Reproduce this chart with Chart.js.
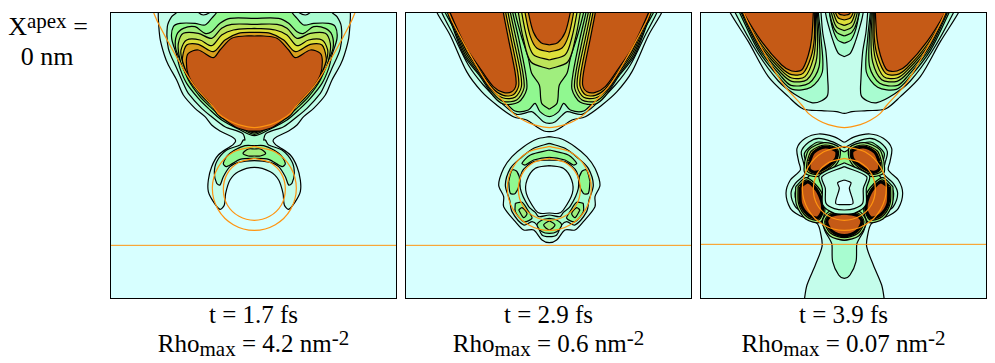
<!DOCTYPE html>
<html>
<head>
<meta charset="utf-8">
<title>Rho contours</title>
<script src="https://cdn.jsdelivr.net/npm/chart.js@4"></script>
<style>
  body { margin: 0; background: #fff; font-family: "Liberation Serif", serif; color: #000; }
  .panel { position: absolute; top: 12px; width: 287px; height: 287px; box-sizing: border-box; border: 1px solid #000; }
  .panel canvas { display: block; }
  .label { position: absolute; text-align: center; font-size: 25px; line-height: 30px; white-space: nowrap; }
  .small { font-size: 21px; }
  .up { position: relative; top: -7px; }
  .down { position: relative; top: 4px; }
</style>
</head>
<body>
<div class="label" style="left:0;top:12px;width:96px;font-size:26px">X<span class="small up">apex</span> =</div>
<div class="label" style="left:0;top:42px;width:94px;font-size:26px">0 nm</div>

<div class="panel" style="left:110px"><canvas id="panel1" width="285" height="285"></canvas></div>
<div class="panel" style="left:405px"><canvas id="panel2" width="285" height="285"></canvas></div>
<div class="panel" style="left:700px"><canvas id="panel3" width="285" height="285"></canvas></div>

<div class="label" style="left:110px;top:300px;width:287px">t = 1.7 fs</div>
<div class="label" style="left:405px;top:300px;width:287px">t = 2.9 fs</div>
<div class="label" style="left:700px;top:300px;width:287px">t = 3.9 fs</div>
<div class="label" style="left:110px;top:329px;width:287px">Rho<span class="small down">max</span> = 4.2 nm<span class="small up">-2</span></div>
<div class="label" style="left:405px;top:329px;width:287px">Rho<span class="small down">max</span> = 0.6 nm<span class="small up">-2</span></div>
<div class="label" style="left:700px;top:329px;width:287px">Rho<span class="small down">max</span> = 0.07 nm<span class="small up">-2</span></div>

<script>
// contour levels, lowest to highest density
const levelColors = ["#c4fdeb", "#a8fcd0", "#90f890", "#a0ee7e", "#bde45a", "#dde03a", "#d8a01e", "#c55a16"];
const backgroundColor = "#d7ffff";
const orange = "#ff9410";

// all contours are read off the picture as half outlines [x, y],
// x from the symmetry axis, y down from the top of the panel
const apexCurve = [[305,-5],[290,30],[248,109],[208,179],[178,224],[128,279],[108,304],[78,325],[48,338],[0,347]];
const outerRing = [[0,403],[63,420],[109,466],[126,529],[109,592],[63,638],[0,655]];
const innerRing = [[0,439],[46,451],[81,485],[93,532],[81,579],[46,613],[0,625]];
const baseLineP1 = [[-430,700],[425,700]];
const baseLineP3 = [[-430,697],[425,697]];

// panel 1
const p1Level0 = [[288,-10],[288,20],[283,79],[270,129],[258,159],[233,204],[213,249],[178,289],[148,314],[128,339],[103,357],[63,377],[56,387],[63,397],[73,404],[108,429],[128,464],[138,504],[138,539],[123,569],[103,592],[90,579],[86,544],[73,504],[48,479],[0,466]];
const p1Level1 = [[233,-10],[233,1],[248,14],[261,44],[258,109],[233,169],[211,219],[198,244],[158,289],[128,314],[88,344],[36,364],[28,384],[33,384],[43,399],[83,414],[113,449],[120,484],[113,514],[103,519],[93,494],[73,464],[48,451],[0,446]];
const p1Notch = [[168,-5],[168,1],[153,9],[133,1],[133,-5]];
const p1Level2 = [[113,-10],[113,1],[128,19],[148,39],[178,34],[223,34],[243,44],[248,79],[233,129],[223,169],[203,214],[168,259],[138,289],[98,324],[48,351],[0,371]];
const p1Level3 = [[0,19],[73,19],[103,34],[128,59],[148,64],[178,44],[213,49],[233,69],[236,109],[218,154],[198,204],[163,254],[133,284],[93,319],[43,347],[0,367]];
const p1Level4 = [[0,37],[68,37],[98,49],[128,79],[168,64],[213,64],[228,94],[226,129],[216,164],[195,204],[160,249],[130,279],[90,314],[40,343],[0,363]];
const p1Level5 = [[0,49],[63,54],[98,69],[128,101],[163,84],[203,84],[220,114],[218,139],[208,169],[192,204],[157,246],[127,275],[87,310],[37,339],[0,360]];
const p1Level6 = [[0,61],[48,64],[88,84],[123,119],[168,97],[203,99],[216,139],[212,159],[204,179],[189,204],[154,243],[124,272],[84,307],[34,336],[0,358]];
const p1Level7 = [[0,72],[28,72],[68,79],[103,114],[123,137],[168,114],[198,124],[204,149],[198,189],[178,224],[128,279],[112,306],[103,314],[58,344],[18,357],[0,357]];
const p1Crescent = [[0,401],[28,401],[73,424],[93,454],[83,464],[43,442],[0,439]];
const p1CrescentCore = [[0,411],[18,411],[34,424],[18,432],[0,432]];

// panel 2
const p2Level0 = [[338,-10],[336,4],[298,69],[248,179],[203,239],[158,279],[108,314],[68,324],[38,344],[16,357],[0,359]];
const p2Level1 = [[323,-10],[323,1],[288,69],[243,159],[198,219],[148,269],[98,307],[53,299],[38,310],[18,329],[0,334]];
const p2Level2 = [[313,-10],[313,1],[263,89],[218,169],[178,229],[138,264],[103,297],[63,294],[43,274],[28,299],[0,314]];
const p2LobeL3 = [[310,-10],[256,130],[208,193],[168,252],[138,276],[93,271],[68,232],[72,179],[92,79],[110,1],[110,-10]];
const p2LobeL4 = [[308,-10],[254,125],[208,188],[168,245],[138,268],[98,264],[76,228],[80,179],[100,79],[117,1],[117,-10]];
const p2LobeL5 = [[305,-10],[252,120],[208,182],[168,238],[138,258],[103,256],[84,225],[87,179],[108,79],[124,1],[124,-10]];
const p2LobeL6 = [[302,-10],[250,115],[208,176],[168,231],[138,250],[108,248],[92,222],[95,179],[115,79],[131,1],[131,-10]];
const p2LobeL7 = [[298,-10],[298,1],[248,109],[208,169],[168,224],[138,241],[113,239],[100,219],[103,179],[123,79],[138,1],[138,-10]];
const p2CenterL3 = [[0,292],[23,274],[30,219],[53,184],[63,139],[85,69],[103,1],[103,-10]];
const p2CenterL4 = [[0,171],[55,150],[78,80],[93,1],[93,-10]];
const p2CenterL5 = [[0,144],[48,128],[68,75],[83,1],[83,-10]];
const p2CenterL6 = [[0,120],[38,108],[58,70],[73,1],[73,-10]];
const p2CenterL7 = [[0,99],[25,92],[48,60],[63,1],[63,-10]];
const p2RingL0 = [[0,374],[37,381],[77,404],[112,434],[137,469],[152,519],[137,554],[137,584],[102,629],[77,654],[47,654],[22,684],[0,692]];
const p2RingL1 = [[0,394],[47,409],[87,439],[117,469],[132,519],[119,564],[112,599],[77,639],[52,629],[37,639],[22,669],[0,674]];
const p2HoleL1 = [[0,444],[47,449],[82,479],[87,529],[62,584],[42,601],[32,614],[0,609]];
const p2HoleL0 = [[0,461],[42,469],[67,504],[69,544],[42,594],[27,604],[0,603]];
const p2TopIsland = [[0,414],[57,429],[82,454],[72,459],[47,444],[0,436]];
const p2SideIsland = [[122,509],[112,474],[97,479],[89,509],[102,544],[117,544]];
const p2LowIsland = [[102,574],[82,571],[62,599],[52,619],[77,629],[102,599]];
const p2LowCore = [[92,594],[82,587],[67,604],[77,617]];
const p2BottomIsland = [[0,619],[22,624],[37,639],[22,659],[0,664]];
const p2BottomCore = [[0,626],[17,639],[0,654]];

// panel 3
const p3Level0 = [[343,-10],[343,1],[288,89],[228,194],[168,254],[123,291],[68,296],[23,299],[0,304]];
const p3LobeL1 = [[328,-10],[328,1],[262,120],[198,207],[150,246],[98,272],[68,266],[50,249],[50,199],[55,120],[65,60],[70,1],[70,-10]];
const p3LobeL2 = [[320,-10],[258,116],[194,198],[156,232],[100,226],[66,180],[70,79],[78,1],[78,-10]];
const p3LobeL3 = [[315,-10],[256,111],[192,190],[160,220],[106,214],[76,165],[75,79],[81,1],[81,-10]];
const p3LobeL4 = [[312,-10],[254,106],[190,183],[158,208],[112,203],[85,150],[80,79],[84,1],[84,-10]];
const p3LobeL5 = [[309,-10],[252,101],[188,176],[158,198],[118,194],[93,140],[86,79],[87,1],[87,-10]];
const p3LobeL6 = [[306,-10],[306,1],[250,96],[188,168],[158,188],[124,184],[100,135],[90,79],[90,1],[90,-10]];
const p3LobeL7 = [[303,-10],[303,1],[248,89],[188,159],[158,177],[128,174],[108,129],[98,79],[93,1],[93,-10]];
const p3TongueL1 = [[0,134],[18,124],[33,89],[48,39],[55,10],[55,-10]];
const p3TongueL2 = [[0,94],[20,84],[35,50],[45,1],[45,-10]];
const p3TongueL3 = [[0,72],[22,62],[38,30],[41,-10]];
const p3TongueL4 = [[0,56],[22,46],[34,20],[37,-10]];
const p3TongueL5 = [[0,40],[20,32],[30,10],[33,-10]];
const p3TongueL6 = [[0,24],[18,18],[27,1],[28,-10]];
const p3TongueL7 = [[0,10],[15,6],[22,-10]];
const p3BlobL0 = [[0,391],[32,374],[77,366],[117,379],[142,409],[137,449],[132,474],[162,504],[175,544],[162,589],[137,609],[82,634],[70,669],[67,704],[87,759],[112,819],[119,857],[119,870]];
const p3BlobL1 = [[0,407],[37,389],[77,379],[107,391],[129,419],[122,454],[117,484],[147,514],[160,544],[147,584],[122,601],[72,624],[57,659],[40,689],[37,699],[35,749],[17,789],[0,799]];
const p3BlobL2 = [[0,420],[37,399],[77,390],[100,402],[120,425],[112,460],[105,490],[135,518],[148,544],[137,580],[112,594],[68,612],[50,650],[25,675],[0,685]];
const p3StarL1 = [[0,452],[75,490],[66,530],[64,580],[30,604],[0,606]];
const p3StarL0 = [[0,464],[67,494],[57,529],[55,574],[30,590],[0,594]];
const p3House = [[0,504],[20,512],[15,529],[26,574],[0,578]];
const p3TopHaloOuter = [[119,449],[106,413],[60,392],[15,407],[17,446],[50,481],[87,494],[119,482]];
const p3TopHaloInner = [[112,449],[99,417],[58,399],[20,412],[22,443],[53,474],[87,487],[112,477]];
const p3TopLobe = [[105,449],[92,421],[57,405],[24,417],[26,441],[57,468],[88,481],[105,472]];
const p3SideHaloOuter = [[146,524],[114,497],[70,538],[58,590],[72,631],[116,621],[144,577]];
const p3SideHaloInner = [[139,524],[112,504],[76,540],[62,590],[77,624],[113,614],[137,576]];
const p3SideLobe = [[133,524],[108,510],[78,542],[65,590],[80,618],[109,608],[131,575]];
const p3BottomHaloOuter = [[0,593],[44,597],[66,629],[44,671],[0,684]];
const p3BottomHaloInner = [[0,598],[42,604],[59,629],[41,664],[0,677]];
const p3BottomLobe = [[0,603],[39,610],[53,629],[37,658],[0,671]];

// half outline -> both sides of the axis
function mirror(half) {
  const right = half.map((p) => ({ x: p[0], y: p[1] }));
  const left = half.map((p) => ({ x: -p[0], y: p[1] })).reverse();
  if (half[half.length - 1][0] === 0) left.shift();
  return right.concat(left);
}

function closed(points, sign) {
  const out = points.map((p) => ({ x: sign * p[0], y: p[1] }));
  out.push(out[0]);
  return out;
}

function area(points, color, width) {
  return { data: points, backgroundColor: color, borderColor: "#000", borderWidth: width || 1.2, fill: "shape" };
}

function line(points) {
  return { data: points, borderColor: orange, borderWidth: 1.2, fill: false };
}

function straight(points) {
  return { data: points.map((p) => ({ x: p[0], y: p[1] })), borderColor: orange, borderWidth: 1, fill: false, tension: 0 };
}

// off axis contour, once on each side
function pair(half, color, width) {
  return [area(closed(half, 1), color, width), area(closed(half, -1), color, width)];
}

function orangeLines(base) {
  return [line(mirror(apexCurve)), line(mirror(outerRing)), line(mirror(innerRing)), straight(base)];
}

const c = levelColors;

const layers1 = [
  area(mirror(p1Level0), c[0]),
  area(mirror(p1Level1), c[1]),
  ...pair(p1Notch, c[0]),
  area(mirror(p1Level2), c[2]),
  area(mirror(p1Level3), c[3]),
  area(mirror(p1Level4), c[4]),
  area(mirror(p1Level5), c[5]),
  area(mirror(p1Level6), c[6]),
  area(mirror(p1Level7), c[7]),
  area(mirror(p1Crescent), c[2]),
  area(mirror(p1CrescentCore), c[3]),
  ...orangeLines(baseLineP1),
];

const layers2 = [
  area(mirror(p2Level0), c[0]),
  area(mirror(p2Level1), c[1]),
  area(mirror(p2Level2), c[2]),
  area(mirror(p2CenterL3), c[3]),
  area(mirror(p2CenterL4), c[4]),
  area(mirror(p2CenterL5), c[5]),
  area(mirror(p2CenterL6), c[6]),
  area(mirror(p2CenterL7), c[7]),
  ...pair(p2LobeL3, c[3]),
  ...pair(p2LobeL4, c[4]),
  ...pair(p2LobeL5, c[5]),
  ...pair(p2LobeL6, c[6]),
  ...pair(p2LobeL7, c[7]),
  area(mirror(p2RingL0), c[0]),
  area(mirror(p2RingL1), c[1]),
  area(mirror(p2HoleL1), c[0]),
  area(mirror(p2HoleL0), backgroundColor),
  area(mirror(p2TopIsland), c[2]),
  ...pair(p2SideIsland, c[2]),
  ...pair(p2LowIsland, c[2]),
  ...pair(p2LowCore, c[3]),
  area(mirror(p2BottomIsland), c[2]),
  area(mirror(p2BottomCore), c[3]),
  ...orangeLines(baseLineP1),
];

const layers3 = [
  area(mirror(p3Level0), c[0]),
  ...pair(p3LobeL1, c[1]),
  ...pair(p3LobeL2, c[2]),
  ...pair(p3LobeL3, c[3]),
  ...pair(p3LobeL4, c[4]),
  ...pair(p3LobeL5, c[5]),
  ...pair(p3LobeL6, c[6]),
  ...pair(p3LobeL7, c[7]),
  area(mirror(p3TongueL1), c[1]),
  area(mirror(p3TongueL2), c[2]),
  area(mirror(p3TongueL3), c[3]),
  area(mirror(p3TongueL4), c[4]),
  area(mirror(p3TongueL5), c[5]),
  area(mirror(p3TongueL6), c[6]),
  area(mirror(p3TongueL7), c[7]),
  area(mirror(p3BlobL0), c[0]),
  area(mirror(p3BlobL1), c[1]),
  area(mirror(p3BlobL2), c[2]),
  ...pair(p3TopHaloOuter, c[3]),
  ...pair(p3TopHaloInner, c[5]),
  ...pair(p3TopLobe, c[7], 3.2),
  ...pair(p3SideHaloOuter, c[3]),
  ...pair(p3SideHaloInner, c[5]),
  ...pair(p3SideLobe, c[7], 3.2),
  area(mirror(p3BottomHaloOuter), c[3]),
  area(mirror(p3BottomHaloInner), c[5]),
  area(mirror(p3BottomLobe), c[7], 3.2),
  area(mirror(p3StarL1), c[1]),
  area(mirror(p3StarL0), c[0]),
  area(mirror(p3House), backgroundColor),
  ...orangeLines(baseLineP3),
];

function drawPanel(id, layers) {
  // first dataset is drawn on top by default, so flip it with order
  layers.forEach((d, i) => { d.order = layers.length - i; });
  new Chart(document.getElementById(id), {
    type: "scatter",
    data: { datasets: layers },
    plugins: [{
      id: "panelBackground",
      beforeDatasetsDraw(chart) {
        const a = chart.chartArea;
        chart.ctx.fillStyle = backgroundColor;
        chart.ctx.fillRect(a.left, a.top, a.width, a.height);
      },
    }],
    options: {
      responsive: false,
      animation: false,
      events: [],
      showLine: true,
      elements: { point: { radius: 0 }, line: { tension: 0.3 } },
      plugins: { legend: { display: false }, tooltip: { enabled: false } },
      scales: {
        x: { type: "linear", min: -430, max: 425, display: false },
        y: { type: "linear", min: 3, max: 858, reverse: true, display: false },
      },
    },
  });
}

drawPanel("panel1", layers1);
drawPanel("panel2", layers2);
drawPanel("panel3", layers3);
</script>
</body>
</html>
